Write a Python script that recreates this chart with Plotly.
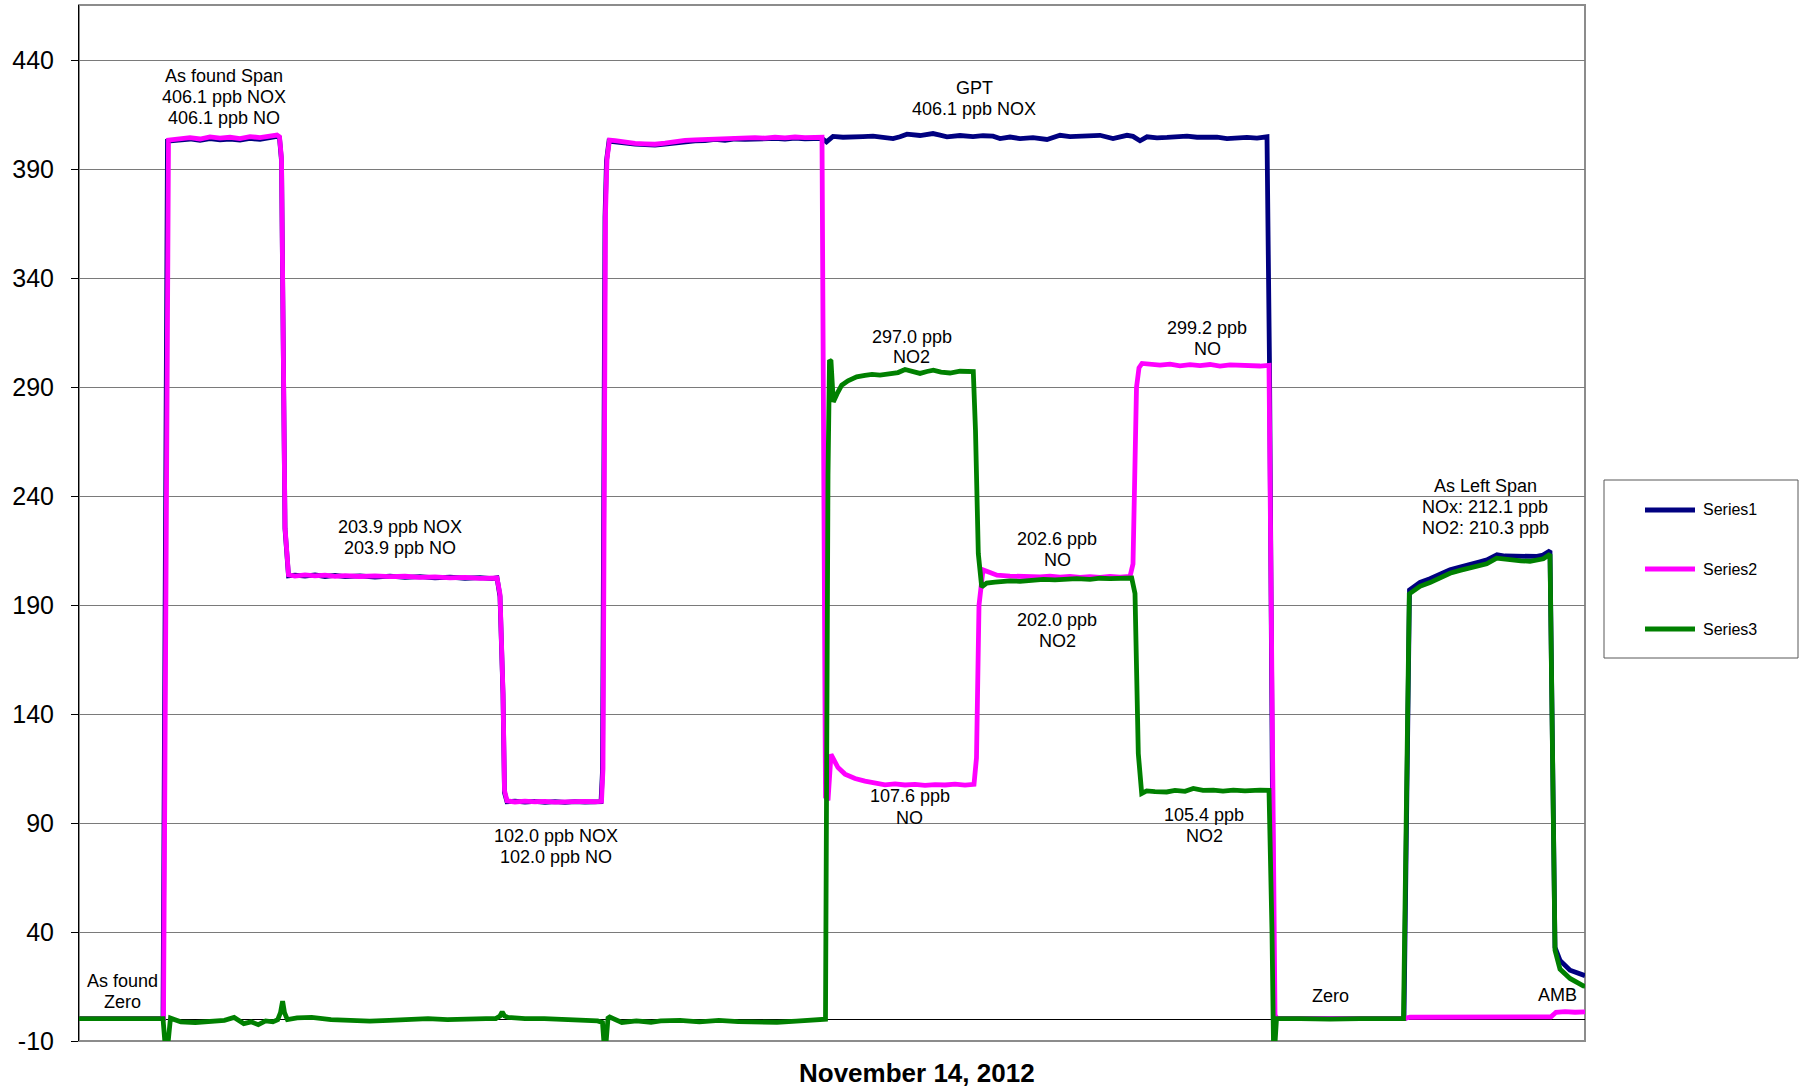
import plotly.graph_objects as go

# ---------------- data (time index in minutes, values in ppb) ----------------
t_nox = [0, 84, 88.5, 101, 111, 121, 131, 141, 151, 161, 171, 181, 191, 198, 200.5, 202.5, 206, 209.5,
         216, 226, 236, 246, 256, 266, 281, 296, 311, 326, 341, 356, 371, 386, 401, 413, 418,
         421, 424, 425.5, 428, 436, 446, 456, 466, 476, 486, 496, 506, 516, 522,
         523.5, 526, 527.5, 530, 536, 546, 556, 566, 576, 586, 596, 606, 616, 626, 636, 646, 656,
         666, 676, 686, 696, 706, 716, 726, 736, 743,
         747.5, 754, 764, 774, 784, 794, 804, 814, 821, 828, 841, 854, 861, 868, 881, 894, 904, 914,
         921, 931, 941, 954, 968, 981, 991, 1001, 1011, 1021, 1034, 1048, 1054, 1061, 1068, 1078,
         1088, 1098, 1108, 1118, 1128, 1138, 1148, 1158, 1168, 1178, 1188,
         1190.5, 1193, 1195, 1221, 1271, 1325,
         1330.5, 1341, 1351, 1361, 1371, 1381, 1391, 1400, 1408, 1418, 1426, 1434, 1442, 1451, 1458,
         1464, 1471, 1476, 1481, 1491, 1506]
nox = [0.3, 0.3, 403.0, 403.6, 404.0, 403.4, 404.2, 403.6, 404.0, 403.5, 404.3, 403.8, 404.6, 405.2, 404.5, 394, 225, 203.5,
       203.8, 203.4, 203.9, 203.2, 203.7, 203.1, 203.5, 202.9, 203.4, 202.8, 203.1, 202.6, 202.9, 202.4, 202.7, 202.2, 202.6,
       194, 149, 104, 99.8, 100.1, 99.6, 100.0, 99.5, 99.9, 99.5, 99.9, 99.6, 99.9, 99.8,
       114, 368, 394, 403.0, 402.7, 402.0, 401.6, 401.4, 401.2, 401.7, 402.3, 403.0, 403.2, 403.3, 403.8, 403.4, 404.0,
       403.8, 404.1, 403.9, 404.3, 404.0, 404.4, 404.1, 404.5, 404.3,
       402.7, 405.2, 404.8, 404.7, 405.1, 405.3, 404.6, 404.2, 405.0, 406.2, 405.6, 406.5, 405.8, 405.0, 405.6, 405.1, 405.5, 405.3,
       404.2, 404.9, 404.2, 404.6, 403.8, 405.7, 405.1, 405.3, 405.0, 405.7, 404.2, 405.7, 405.2, 403.2, 405.0, 404.5,
       404.7, 405.2, 405.3, 404.8, 404.7, 404.9, 404.2, 404.6, 404.7, 404.4, 405.0,
       300, 100, 0.3, 0.3, 0.3, 0.3,
       197.0, 200.5, 202.2, 204.0, 206.3, 207.5, 209.0, 209.8, 210.8, 213.2, 212.6, 212.5, 212.1, 212.0, 212.4,
       213.0, 215.0, 33, 27, 22.5, 20]

t_no = [0, 84.5, 89.5, 101, 111, 121, 131, 141, 151, 161, 171, 181, 191, 198, 200.5, 202.5, 206, 209.5,
        216, 226, 236, 246, 256, 266, 281, 296, 311, 326, 341, 356, 371, 386, 401, 413, 418,
        421, 424, 425.5, 428, 436, 446, 456, 466, 476, 486, 496, 506, 516, 522.5,
        524, 526.5, 528, 530.5, 536, 546, 556, 566, 576, 586, 596, 606, 616, 626, 636, 646, 656,
        666, 676, 686, 696, 706, 716, 726, 736, 743,
        746.5, 749, 752, 755, 759, 766, 776, 786, 796, 806, 816, 826, 836, 846, 856, 866, 876, 886, 895,
        897.5, 900, 904, 911, 918, 931, 941, 951, 961, 971, 981, 991, 1001, 1011, 1021, 1031, 1041, 1051,
        1054, 1057.5, 1060, 1063, 1071, 1081, 1091, 1101, 1111, 1121, 1131, 1141, 1151, 1161, 1171, 1181, 1190,
        1193, 1196, 1198, 1221, 1271, 1325, 1331, 1371, 1421, 1461, 1472, 1477, 1486, 1496, 1506]
no = [0.3, 0.3, 403.5, 404.2, 404.6, 404.0, 405.0, 404.4, 404.8, 404.2, 405.1, 404.6, 405.3, 405.8, 405.0, 395, 226, 204,
      203.4, 203.9, 203.5, 203.8, 203.3, 203.6, 203.2, 203.5, 203.1, 203.3, 202.8, 203.0, 202.6, 202.8, 202.3, 202.7, 202.5,
      195, 150, 105, 100.2, 99.7, 100.1, 99.8, 100.0, 99.6, 99.9, 99.7, 100.0, 99.8, 100.0,
      115, 370, 395, 403.5, 403.2, 402.4, 402.0, 401.8, 401.6, 402.1, 402.8, 403.4, 403.6, 403.8, 404.2, 403.9, 404.5,
      404.3, 404.6, 404.4, 404.8, 404.5, 404.9, 404.6, 405.0, 404.8,
      102, 100.5, 121.5, 119, 115.5, 112.5, 110.5, 109.3, 108.5, 107.6, 108.0, 107.5, 107.8, 107.3, 107.7, 107.5, 107.9, 107.4, 107.8,
      120, 190, 206.2, 205.0, 203.8, 203.4, 203.2, 203.5, 203.0, 203.3, 202.9, 203.2, 202.8, 203.1, 202.8, 203.2, 202.9, 203.2,
      209, 290, 299, 301, 300.6, 300.2, 300.7, 299.9, 300.4, 300.0, 300.5, 299.8, 300.3, 300.0, 300.2, 299.8, 300.1,
      150, 2, 0.3, 0.3, 0.3, 0.3, 0.9, 1.1, 1.0, 1.2, 1.1, 3.2, 3.5, 3.2, 3.4]

t_no2 = [0, 84, 86, 89, 91.5, 101.8, 116.3, 130.9, 145.4, 155.1, 164.8, 172.1, 179.3, 186.6, 193.9, 198.7,
         201.5, 203.6, 205.5, 208.4, 218.1, 232.7, 252, 271.4, 290.8, 310.2, 329.6, 349, 368.4, 387.8, 407.1,
         416.8, 421, 423.2, 425.5, 429, 446, 465.3, 484.7, 504.1, 518.6, 523.5, 525, 527, 529, 530.7, 542.9,
         557.4, 572, 581.7, 601, 620.4, 639.8, 659.2, 678.6, 698, 717.4, 736.8, 746.5,
         749, 750.5, 752, 754.3, 758, 762.7, 769, 777.7, 786, 793, 801, 811, 819, 826, 833, 841, 848, 854.3,
         862, 871, 881, 888, 894.3,
         896.5, 899.3, 902.7, 907.7, 916, 924, 931, 941, 951, 964.3, 976, 986, 997.7, 1011, 1021, 1031, 1041,
         1047.7, 1052.7,
         1056, 1059.3, 1062.7, 1067.7, 1076, 1087.7, 1096, 1106, 1114.3, 1124, 1134.3, 1144, 1154.3, 1166, 1181, 1190,
         1193, 1194.5, 1196, 1197.5, 1221, 1251, 1281, 1311, 1324.5,
         1330.3, 1341, 1351, 1361, 1371, 1381, 1391, 1400, 1407.7, 1417.7, 1426, 1434.3, 1442, 1451, 1458,
         1464.3, 1471, 1476, 1481, 1491, 1504.3, 1506]
no2 = [0.3, 0.3, -11, -11, 0.5, -1.2, -1.5, -0.9, -0.5, 0.8, -2.0, -1.2, -2.5, -0.8, -1.2, -0.2,
       3, 8.3, 3, -0.2, 0.6, 0.8, -0.2, -0.5, -0.9, -0.5, -0.2, 0.3, -0.2, 0.3, 0.3,
       0.3, 1.5, 3.4, 1.5, 0.8, 0.3, 0.3, -0.2, -0.2, -0.8, -1.5, -11, -11, 0.5, 1.0, -1.5,
       -0.8, -1.4, -0.8, -0.5, -1.2, -0.5, -1.1, -1.5, -1.4, -0.9, -0.5, 0,
       250, 302.5, 302, 283.3, 287, 291, 293, 294.8, 295.5, 296.0, 295.6, 296.5, 296.8, 298.2, 297.2, 296.4, 297.3, 297.9,
       297.0, 296.6, 297.4, 297.1, 297.2,
       270, 213.7, 198.4, 200.2, 200.6, 200.9, 201.2, 201.0, 201.6, 201.9, 201.6, 202.1, 202.2, 201.9, 202.4, 202.2, 202.5,
       202.7, 202.5,
       195.4, 121.9, 103.6, 104.8, 104.5, 104.3, 105.0, 104.6, 105.9, 105.0, 105.1, 104.7, 105.1, 104.8, 105.1, 105.0,
       40, -11, -11, 0.3, 0.3, 0.0, 0.3, 0.0, 0.3,
       195.2, 198.7, 200.4, 202.5, 204.7, 206.0, 207.3, 208.2, 209.0, 211.6, 211.0, 210.8, 210.4, 210.2, 210.6,
       211.3, 213.4, 31.7, 23, 18.7, 15.3, 15.2]

series_names = ["Series1", "Series2", "Series3"]
series_colors = ["#000080", "#FF00FF", "#008000"]

y_ticks = [-10, 40, 90, 140, 190, 240, 290, 340, 390, 440]
y_tick_labels = ["-10", "40", "90", "140", "190", "240", "290", "340", "390", "440"]

x_title = "November 14, 2012"

# label lines, and where each label block is centred (figure pixels)
labels = [
    (["As found Span", "406.1 ppb NOX", "406.1 ppb NO"], 224, 97),
    (["203.9 ppb NOX", "203.9 ppb NO"], 400, 537),
    (["102.0 ppb NOX", "102.0 ppb NO"], 556, 846),
    (["GPT", "406.1 ppb NOX"], 974, 98),
    (["297.0 ppb", "NO2"], 912, 347),
    (["107.6 ppb", "NO"], 910, 807),
    (["202.6 ppb", "NO"], 1057, 549),
    (["202.0 ppb", "NO2"], 1057, 630),
    (["299.2 ppb", "NO"], 1207, 338),
    (["105.4 ppb", "NO2"], 1204, 825),
    (["As Left Span", "NOx: 212.1 ppb", "NO2: 210.3 ppb"], 1485, 507),
    (["As found", "Zero"], 122, 991),
    (["Zero"], 1330, 996),
    (["AMB"], 1557, 995),
]

# ---------------- layout geometry ----------------
W, H = 1803, 1089
ML, MR, MT, MB = 79, 218, 5, 48
PW = W - ML - MR
PH = H - MT - MB
FONT = "Liberation Sans, Arial, sans-serif"
LINE_PITCH = 21


def px(xp):
    return (xp - ML) / PW


def py(yp):
    return (H - MB - yp) / PH


fig = go.Figure()
for tx, vals, name, col in [(t_nox, nox, series_names[0], series_colors[0]),
                            (t_no, no, series_names[1], series_colors[1]),
                            (t_no2, no2, series_names[2], series_colors[2])]:
    fig.add_trace(go.Scatter(x=tx, y=vals, mode="lines", name=name, showlegend=False,
                             line=dict(color=col, width=4.8)))

annotations = []
for lines, xp, yp in labels:
    n = len(lines)
    for i, txt in enumerate(lines):
        ly = yp + (i - (n - 1) / 2) * LINE_PITCH
        annotations.append(dict(text=txt, xref="paper", yref="paper", x=px(xp), y=py(ly),
                                xanchor="center", yanchor="middle", showarrow=False,
                                font=dict(family=FONT, size=18, color="#000000")))
annotations.append(dict(text="<b>" + x_title + "</b>", xref="paper", yref="paper",
                        x=px(917), y=py(1073), xanchor="center", yanchor="middle",
                        showarrow=False, font=dict(family=FONT, size=26, color="#000000")))

shapes = [dict(type="rect", xref="paper", yref="paper", x0=0, x1=1, y0=0, y1=1,
               line=dict(color="#8c8c8c", width=2), layer="below")]

# manual legend
shapes.append(dict(type="rect", xref="paper", yref="paper", x0=px(1604), x1=px(1798),
                   y0=py(658), y1=py(480), line=dict(color="#595959", width=1),
                   fillcolor="white", layer="above"))
for i, (name, col) in enumerate(zip(series_names, series_colors)):
    ly = [510, 569, 629][i]
    shapes.append(dict(type="line", xref="paper", yref="paper", x0=px(1645), x1=px(1695),
                       y0=py(ly), y1=py(ly), line=dict(color=col, width=5), layer="above"))
    annotations.append(dict(text=name, xref="paper", yref="paper", x=px(1701), y=py(ly),
                            xanchor="left", yanchor="middle", showarrow=False,
                            font=dict(family=FONT, size=16, color="#000000")))

fig.update_layout(
    width=W, height=H,
    margin=dict(l=ML, r=MR, t=MT, b=MB, pad=0),
    paper_bgcolor="white", plot_bgcolor="white",
    showlegend=False,
    xaxis=dict(range=[0, 1506], showticklabels=False, showgrid=False, zeroline=False,
               showline=False, ticks=""),
    yaxis=dict(range=[-10, 465.5], tickmode="array", tickvals=y_ticks, ticktext=y_tick_labels,
               showgrid=True, gridcolor="#7a7a7a", gridwidth=1,
               zeroline=True, zerolinecolor="#000000", zerolinewidth=1,
               showline=True, linecolor="#000000", linewidth=1,
               ticks="outside", ticklen=7, tickcolor="#000000", tickwidth=1,
               ticklabelstandoff=12,
               tickfont=dict(family=FONT, size=25, color="#000000")),
    annotations=annotations,
    shapes=shapes,
)

fig.write_html("out.html", config={"displayModeBar": False},
               post_script="document.body.style.margin='0px';document.body.style.overflow='hidden';")
